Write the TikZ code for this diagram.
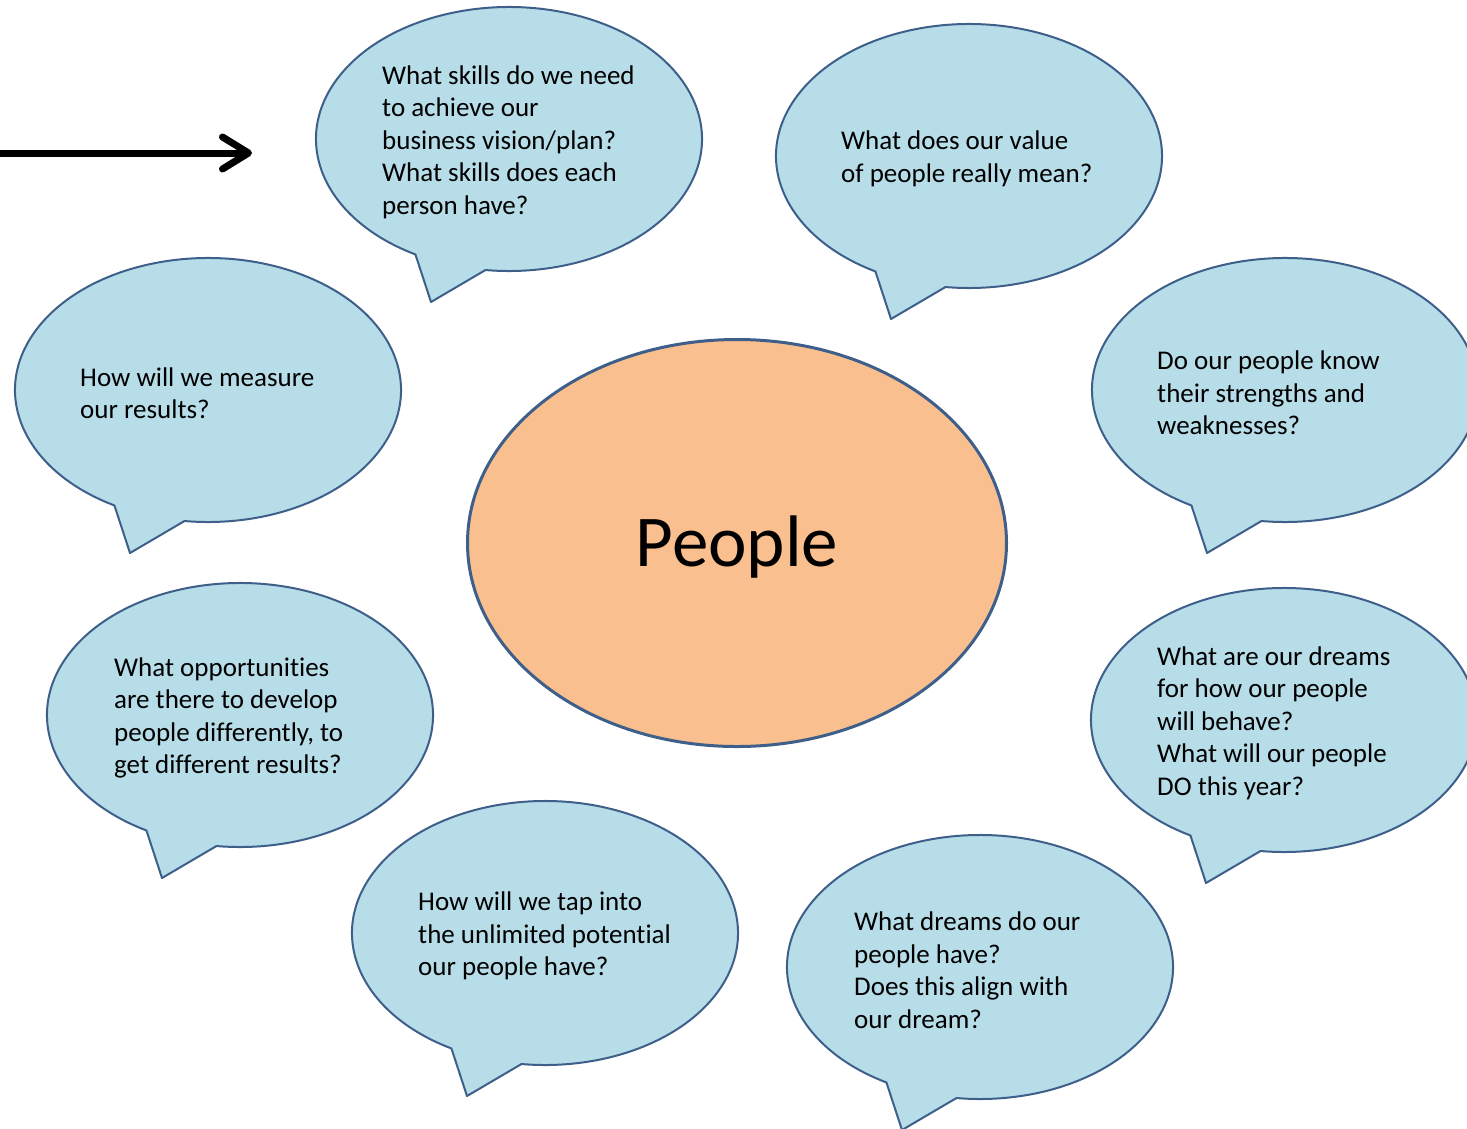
\documentclass[tikz,border=0pt]{standalone}
\usepackage{fontspec}
\setmainfont{Carlito}[Ligatures=NoCommon]
\usetikzlibrary{shapes.geometric,arrows.meta,calc}
\definecolor{bubblefill}{HTML}{B7DDE8}
\definecolor{bubbleline}{HTML}{3E5F8A}
\definecolor{corefill}{HTML}{F9BF8F}
\tikzset{
  bubble/.style={fill=bubblefill, draw=bubbleline, line width=2pt, line join=round},
  question/.style={font=\fontsize{27pt}{32.5pt}\selectfont, align=left, inner sep=0pt, anchor=west},
  core/.style={ellipse, fill=corefill, draw=bubbleline, line width=3pt,
    minimum width=539pt, minimum height=407pt, font=\fontsize{73pt}{80pt}\selectfont},
  pointer/.style={line width=7pt, -{Straight Barb[length=26pt, width=32pt, round]}}
}
\begin{document}
\begin{tikzpicture}[x=1pt, y=-1pt]
  \useasboundingbox (0,0) rectangle (1467,1128);
  \clip (0,0) rectangle (1467,1128);
  % bubble centres
  \coordinate (b1) at (509,139);
  \coordinate (b2) at (969,156);
  \coordinate (b3) at (208,390);
  \coordinate (b4) at (1285,390);
  \coordinate (b5) at (240,715);
  \coordinate (b6) at (1284,720);
  \coordinate (b7) at (545,933);
  \coordinate (b8) at (980,967);
  % speech bubbles
  \draw[bubble] (b1) ++(119:193 and 132) arc[start angle=119, end angle=457, x radius=193, y radius=132] -- ($(b1)+(-78,163)$) -- cycle;
  \draw[bubble] (b2) ++(119:193 and 132) arc[start angle=119, end angle=457, x radius=193, y radius=132] -- ($(b2)+(-78,163)$) -- cycle;
  \draw[bubble] (b3) ++(119:193 and 132) arc[start angle=119, end angle=457, x radius=193, y radius=132] -- ($(b3)+(-78,163)$) -- cycle;
  \draw[bubble] (b4) ++(119:193 and 132) arc[start angle=119, end angle=457, x radius=193, y radius=132] -- ($(b4)+(-78,163)$) -- cycle;
  \draw[bubble] (b5) ++(119:193 and 132) arc[start angle=119, end angle=457, x radius=193, y radius=132] -- ($(b5)+(-78,163)$) -- cycle;
  \draw[bubble] (b6) ++(119:193 and 132) arc[start angle=119, end angle=457, x radius=193, y radius=132] -- ($(b6)+(-78,163)$) -- cycle;
  \draw[bubble] (b7) ++(119:193 and 132) arc[start angle=119, end angle=457, x radius=193, y radius=132] -- ($(b7)+(-78,163)$) -- cycle;
  \draw[bubble] (b8) ++(119:193 and 132) arc[start angle=119, end angle=457, x radius=193, y radius=132] -- ($(b8)+(-78,163)$) -- cycle;
  % questions
  \node[question] (q1) at ($(b1)+(-127,3)$) {What skills do we need\\to achieve our\\business vision/plan?\\What skills does each\\person have?};
  \node[question] (q2) at ($(b2)+(-128,3)$) {What does our value\\of people really mean?};
  \node[question] (q3) at ($(b3)+(-128,3)$) {How will we measure\\our results?};
  \node[question] (q4) at ($(b4)+(-128,3)$) {Do our people know\\their strengths and\\weaknesses?};
  \node[question] (q5) at ($(b5)+(-126,3)$) {What opportunities\\are there to develop\\people differently, to\\get different results?};
  \node[question] (q6) at ($(b6)+(-127,3)$) {What are our dreams\\for how our people\\will behave?\\What will our people\\DO this year?};
  \node[question] (q7) at ($(b7)+(-127,3)$) {How will we tap into\\the unlimited potential\\our people have?};
  \node[question] (q8) at ($(b8)+(-126,3)$) {What dreams do our\\people have?\\Does this align with\\our dream?};
  % centre
  \node[core] (people) at (737,543) {\raisebox{-5pt}[51pt][15pt]{People}};
  % arrow
  \coordinate (start) at (0,153);
  \coordinate (end) at (252,153);
  \draw[pointer] (start) -- (end);
\end{tikzpicture}
\end{document}
